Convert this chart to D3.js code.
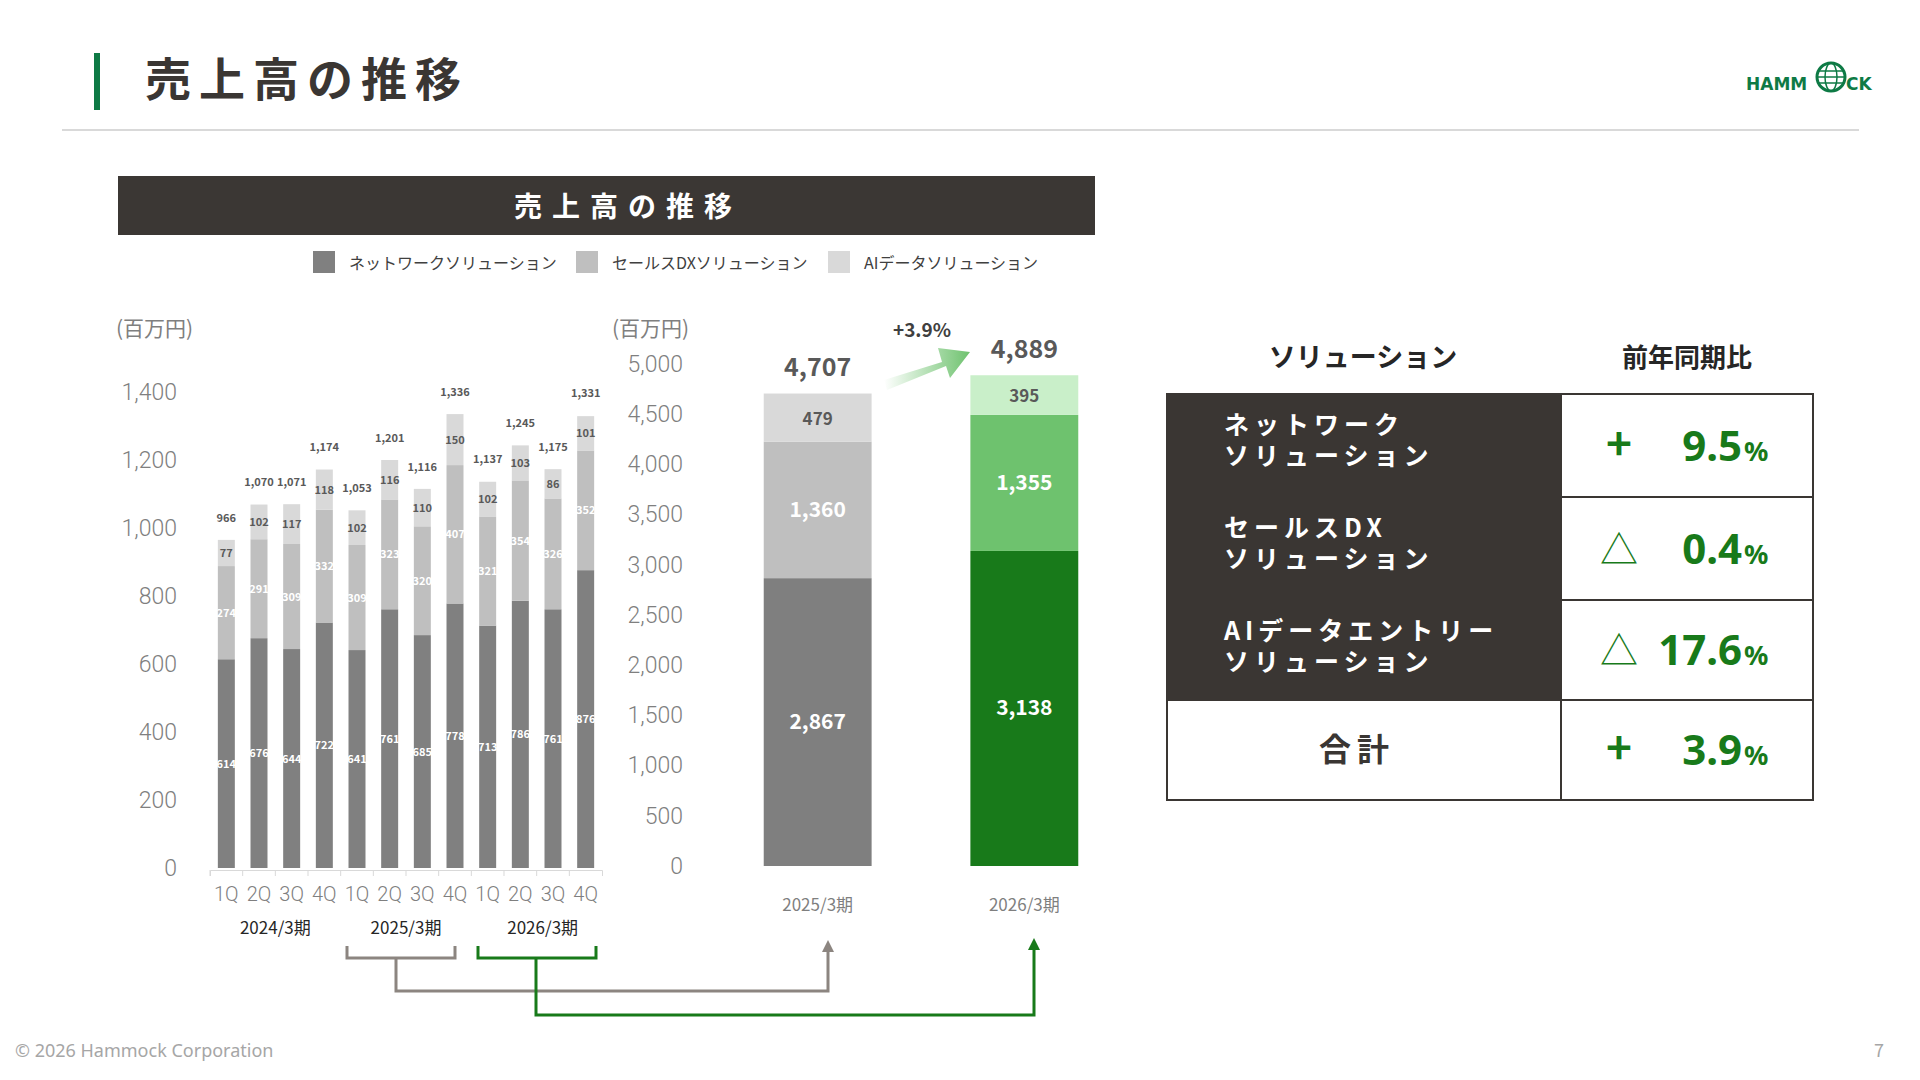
<!DOCTYPE html>
<html><head><meta charset="utf-8">
<script src="https://cdn.jsdelivr.net/npm/d3@7"></script>
<style>body{margin:0;background:#fff}svg{font-family:"Noto Sans CJK JP","Noto Sans",sans-serif}</style>
</head><body><div id="chart"></div>
<script>
// quarterly data
var quarters = ["1Q","2Q","3Q","4Q","1Q","2Q","3Q","4Q","1Q","2Q","3Q","4Q"];
var network = [614,676,644,722,641,761,685,778,713,786,761,876];
var salesDX = [274,291,309,332,309,323,320,407,321,354,326,352];
var aiData = [77,102,117,118,102,116,110,150,102,103,86,101];
var totals = [966,1070,1071,1174,1053,1201,1116,1336,1137,1245,1175,1331];
var periods = ["2024/3期","2025/3期","2026/3期"];
var leftTicks = [0,200,400,600,800,1000,1200,1400];

// annual data
var years = ["2025/3期","2026/3期"];
var yNetwork = [2867,3138];
var ySales = [1360,1355];
var yAI = [479,395];
var yTotals = [4707,4889];
var rightTicks = [0,500,1000,1500,2000,2500,3000,3500,4000,4500,5000];

// table
var rowsLabel = [["ネットワーク","ソリューション"],["セールスDX","ソリューション"],["AIデータエントリー","ソリューション"],["合計"]];
var rowsSign = ["+","△","△","+"];
var rowsValue = ["9.5","0.4","17.6","3.9"];

var svg = d3.select("#chart").append("svg").attr("width",1920).attr("height",1080);

// header
svg.append("rect").attr("x",94).attr("y",53).attr("width",6).attr("height",57).attr("fill","#0e7a45");
svg.append("text").attr("x",145).attr("y",96).attr("font-size",46).attr("font-weight","bold").attr("fill","#3a3633").attr("letter-spacing",8).text("売上高の推移");
svg.append("line").attr("x1",62).attr("x2",1859).attr("y1",130).attr("y2",130).attr("stroke","#d9d9d9").attr("stroke-width",2);
svg.append("text").attr("x",1746).attr("y",90).attr("font-family","DejaVu Sans").attr("font-weight","900").attr("font-size",17).attr("fill","#0e7a45").text("HAMM");
svg.append("circle").attr("cx",1831).attr("cy",77).attr("r",14).attr("fill","none").attr("stroke","#0e7a45").attr("stroke-width",3);
svg.append("ellipse").attr("cx",1831).attr("cy",77).attr("rx",6).attr("ry",14).attr("fill","none").attr("stroke","#0e7a45").attr("stroke-width",1.5);
[-6,0,6].forEach(function(o){svg.append("line").attr("x1",1818).attr("x2",1844).attr("y1",77+o).attr("y2",77+o).attr("stroke","#0e7a45").attr("stroke-width",1.5);});
svg.append("text").attr("x",1846).attr("y",90).attr("font-family","DejaVu Sans").attr("font-weight","900").attr("font-size",17).attr("fill","#0e7a45").text("CK");

// title bar
svg.append("rect").attr("x",118).attr("y",176).attr("width",977).attr("height",59).attr("fill","#3b3734");
svg.append("text").attr("x",628).attr("y",217).attr("text-anchor","middle").attr("font-size",28).attr("font-weight","bold").attr("fill","#fff").attr("letter-spacing",10).text("売上高の推移");

// legend
var legendItems = [["ネットワークソリューション","#808080",313],["セールスDXソリューション","#bfbfbf",576],["AIデータソリューション","#d9d9d9",828]];
legendItems.forEach(function(l){
  svg.append("rect").attr("x",l[2]).attr("y",251).attr("width",22).attr("height",22).attr("fill",l[1]);
  svg.append("text").attr("x",l[2]+36).attr("y",269).attr("font-size",16).attr("fill","#404040").text(l[0]);
});

// left chart
var x = d3.scaleBand().domain(d3.range(12)).range([210,602]).paddingInner(0.48).paddingOuter(0.24);
var y = d3.scaleLinear().domain([0,1400]).range([868,392]);
svg.append("text").attr("x",116).attr("y",336).attr("font-size",21).attr("fill","#7f7f7f").text("(百万円)");
svg.append("g").attr("transform","translate(180,0)")
  .call(d3.axisLeft(y).tickValues(leftTicks).tickSize(0).tickFormat(d3.format(",")))
  .call(function(g){g.select(".domain").remove();g.selectAll("text").attr("font-size",23).attr("fill","#7f7f7f").attr("font-family","Roboto").attr("font-weight",300);});

var segs = [[network,"#808080","#fff"],[salesDX,"#bfbfbf","#fff"],[aiData,"#d9d9d9","#595959"]];
d3.range(12).forEach(function(i){
  var base = 0;
  segs.forEach(function(s){
    var v = s[0][i];
    svg.append("rect").attr("x",x(i)).attr("width",x.bandwidth()).attr("y",y(base+v)).attr("height",y(base)-y(base+v)).attr("fill",s[1]);
    svg.append("text").attr("x",x(i)+x.bandwidth()/2).attr("y",y(base+v/2)+4).attr("text-anchor","middle").attr("font-size",11).attr("font-weight","bold").attr("fill",s[2]).text(v);
    base += v;
  });
  svg.append("text").attr("x",x(i)+x.bandwidth()/2).attr("y",y(totals[i])-18).attr("text-anchor","middle").attr("font-size",11).attr("font-weight","bold").attr("fill","#595959").text(d3.format(",")(totals[i]));
});
svg.append("g").attr("transform","translate(0,870)")
  .call(d3.axisBottom(x).tickSize(6).tickFormat(function(d){return quarters[d];}))
  .call(function(g){g.select(".domain").attr("stroke","#d9d9d9");g.selectAll("line").attr("stroke","#d9d9d9").attr("transform","translate("+(-x.step()/2)+",0)");
    g.selectAll("text").attr("font-size",20).attr("fill","#7f7f7f").attr("font-family","Roboto").attr("font-weight",300).attr("dy","1.1em");});
periods.forEach(function(p,k){
  var cx = (x(k*4)+x(k*4+3)+x.bandwidth())/2;
  svg.append("text").attr("x",cx+(k===2?6:0)).attr("y",934).attr("text-anchor","middle").attr("font-size",17).attr("fill","#262626").text(p);
});

// right chart
var x2 = d3.scaleBand().domain(years).range([710,1132]).paddingInner(0.478).paddingOuter(0.26);
var y2 = d3.scaleLinear().domain([0,5000]).range([866,364]);
svg.append("text").attr("x",612).attr("y",336).attr("font-size",21).attr("fill","#7f7f7f").text("(百万円)");
svg.append("g").attr("transform","translate(686,0)")
  .call(d3.axisLeft(y2).tickValues(rightTicks).tickSize(0).tickFormat(d3.format(",")))
  .call(function(g){g.select(".domain").remove();g.selectAll("text").attr("font-size",23).attr("fill","#7f7f7f").attr("font-family","Roboto").attr("font-weight",300);});
var ysegs = [
  [yNetwork,["#7f7f7f","#187a1a"],"#fff"],
  [ySales,["#bfbfbf","#6ec26e"],"#fff"],
  [yAI,["#d9d9d9","#c9efc9"],"#595959"]];
years.forEach(function(yr,i){
  var base = 0;
  ysegs.forEach(function(s){
    var v = s[0][i];
    svg.append("rect").attr("x",x2(yr)).attr("width",x2.bandwidth()).attr("y",y2(base+v)).attr("height",y2(base)-y2(base+v)).attr("fill",s[1][i]);
    svg.append("text").attr("x",x2(yr)+x2.bandwidth()/2).attr("y",y2(base+v/2)+7).attr("text-anchor","middle").attr("font-size",s[0]===yAI?17:21).attr("font-weight","bold").attr("fill",s[2]).text(d3.format(",")(v));
    base += v;
  });
  svg.append("text").attr("x",x2(yr)+x2.bandwidth()/2).attr("y",y2(yTotals[i])-17).attr("text-anchor","middle").attr("font-size",25).attr("font-weight","bold").attr("fill","#595959").text(d3.format(",")(yTotals[i]));
  svg.append("text").attr("x",x2(yr)+x2.bandwidth()/2).attr("y",911).attr("text-anchor","middle").attr("font-size",17).attr("fill","#7f7f7f").text(yr);
});
// growth arrow
var defs = svg.append("defs");
var gr = defs.append("linearGradient").attr("id","ag").attr("x1","0").attr("x2","1");
gr.append("stop").attr("offset","0").attr("stop-color","#fff");
gr.append("stop").attr("offset","1").attr("stop-color","#6ec26e");
svg.append("path").attr("d","M884,380 L942,362 L938,348 L970,352 L950,378 L946,366 L887,390 Z").attr("fill","url(#ag)");
svg.append("text").attr("x",922).attr("y",337).attr("text-anchor","middle").attr("font-size",19).attr("font-weight","bold").attr("fill","#404040").text("+3.9%");

// connector brackets
svg.append("path").attr("d","M347,946 V958 H455 V946 M396,958 V991 H828 V950").attr("fill","none").attr("stroke","#8c8580").attr("stroke-width",3);
svg.append("path").attr("d","M822,952 L828,940 L834,952 Z").attr("fill","#8c8580");
svg.append("path").attr("d","M478,946 V958 H596 V946 M536,958 V1015 H1034 V948").attr("fill","none").attr("stroke","#187a1a").attr("stroke-width",3);
svg.append("path").attr("d","M1028,950 L1034,938 L1040,950 Z").attr("fill","#187a1a");

// table
var rowY = [394,497,600,700,800];
svg.append("text").attr("x",1363).attr("y",367).attr("text-anchor","middle").attr("font-size",27).attr("font-weight","bold").attr("fill","#262626").text("ソリューション");
svg.append("text").attr("x",1687).attr("y",367).attr("text-anchor","middle").attr("font-size",26).attr("font-weight","bold").attr("fill","#262626").text("前年同期比");
rowsLabel.forEach(function(lab,i){
  var y0 = rowY[i], h = rowY[i+1]-y0, total = i===3;
  svg.append("rect").attr("x",1167).attr("y",y0).attr("width",394).attr("height",h).attr("fill",total?"#fff":"#3a3633").attr("stroke","#3a3633").attr("stroke-width",2);
  svg.append("rect").attr("x",1561).attr("y",y0).attr("width",252).attr("height",h).attr("fill","#fff").attr("stroke","#3a3633").attr("stroke-width",2);
  if(total){
    svg.append("text").attr("x",1357).attr("y",y0+h/2+11).attr("text-anchor","middle").attr("font-size",32).attr("font-weight","bold").attr("fill","#3a3633").attr("letter-spacing",6).text(lab[0]);
  } else {
    var t = svg.append("text").attr("y",y0+40).attr("font-size",25).attr("font-weight","bold").attr("fill","#fff").attr("letter-spacing",5);
    lab.forEach(function(s,j){
      t.append("tspan").attr("x",1224).attr("dy",j?31:0).text(s);
    });
  }
  svg.append("text").attr("x",1619).attr("y",y0+h/2+14).attr("text-anchor","middle").attr("font-size",rowsSign[i]==="+"?44:38).attr("font-weight",rowsSign[i]==="+"?"bold":"normal").attr("fill","#187a1a").text(rowsSign[i]);
  svg.append("text").attr("x",1742).attr("y",y0+h/2+15).attr("text-anchor","end").attr("font-size",42).attr("font-weight","bold").attr("fill","#187a1a").attr("font-family","Noto Sans").text(rowsValue[i]);
  svg.append("text").attr("x",1744).attr("y",y0+h/2+15).attr("font-size",27).attr("font-weight","bold").attr("fill","#187a1a").attr("font-family","Noto Sans").text("%");
});

// footer
svg.append("text").attr("x",15).attr("y",1057).attr("font-size",18).attr("fill","#a6a6a6").attr("font-family","Noto Sans").text("© 2026 Hammock Corporation");
svg.append("text").attr("x",1884).attr("y",1057).attr("text-anchor","end").attr("font-size",18).attr("fill","#a6a6a6").text("7");
</script></body></html>
